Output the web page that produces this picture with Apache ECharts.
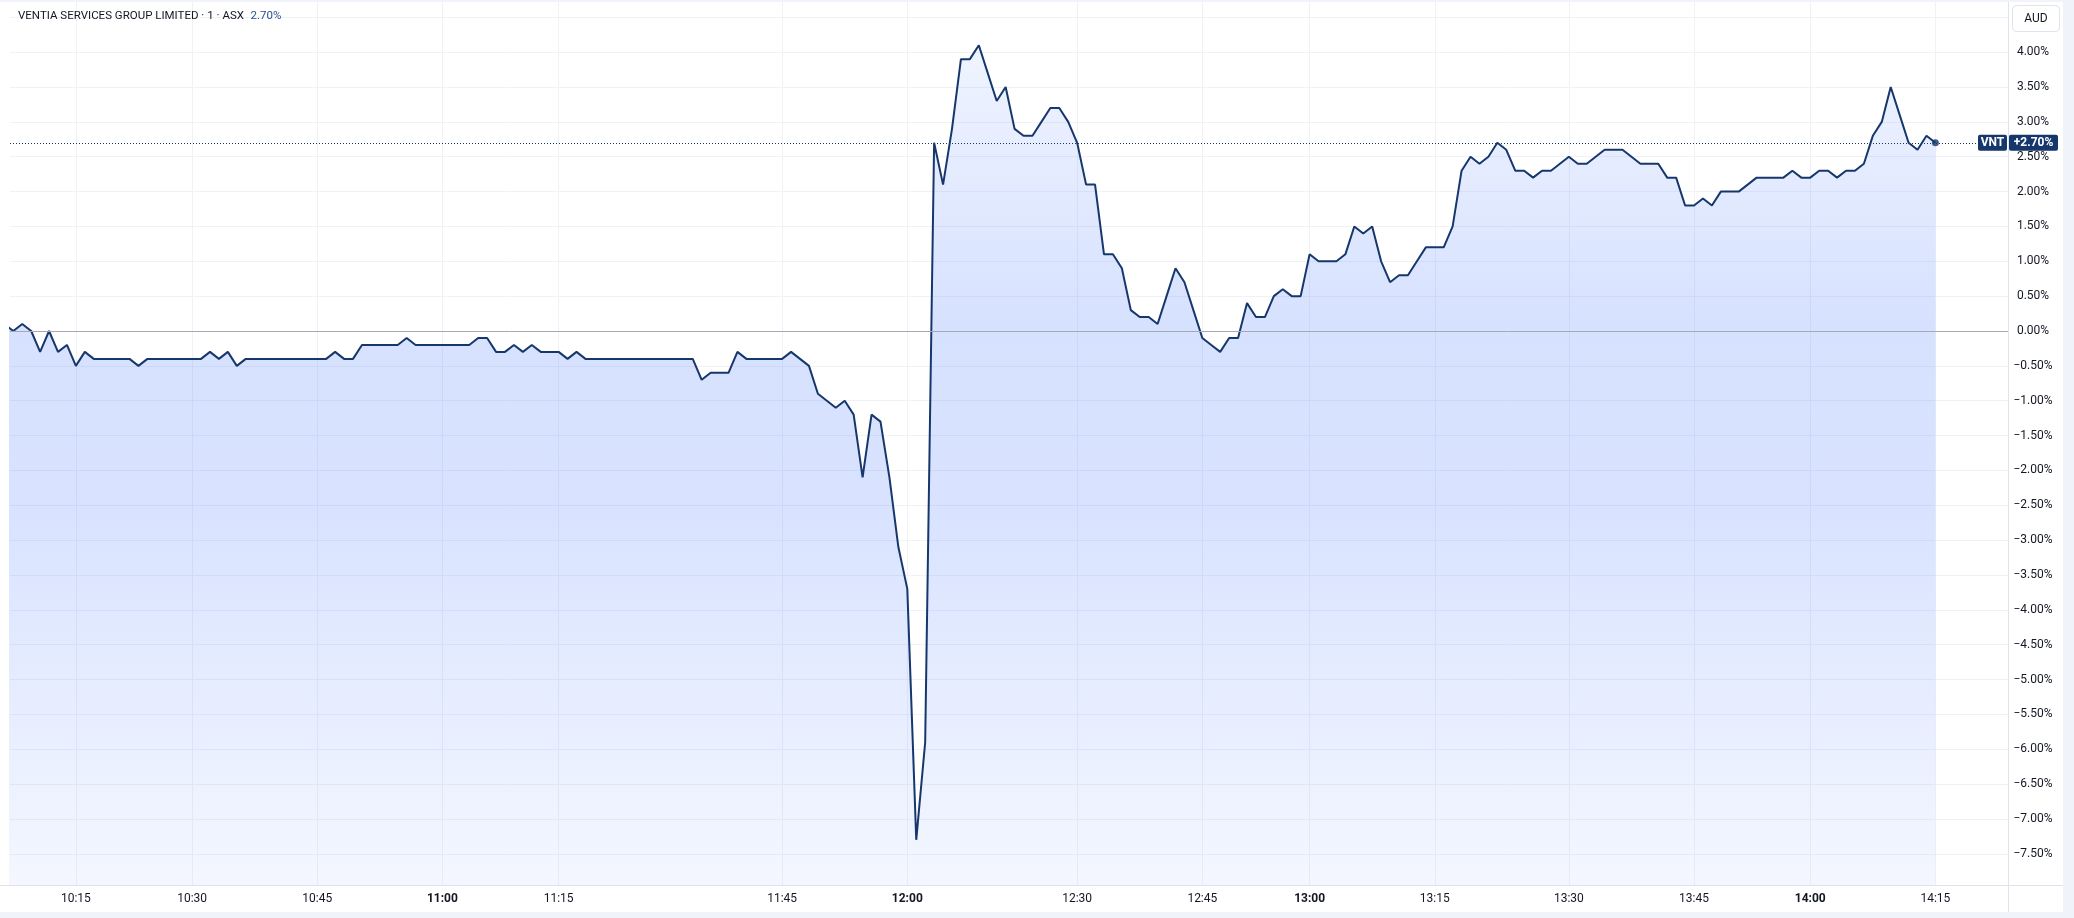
<!DOCTYPE html>
<html>
<head>
<meta charset="utf-8">
<script src="https://cdn.jsdelivr.net/npm/echarts@6/dist/echarts.min.js"></script>
<style>
html,body{margin:0;padding:0;background:#ffffff;}
#c{width:2074px;height:918px;}
</style>
</head>
<body>
<div id="c"></div>
<script>
// Percentage change vs. open, one value per 1-minute bar (bar 0 lies just left of the visible pane)
const changePct = [
  0.1, 0.0, 0.1, 0.0, -0.3, 0.0, -0.3, -0.2, -0.5, -0.3,
  -0.4, -0.4, -0.4, -0.4, -0.4, -0.5, -0.4, -0.4, -0.4, -0.4,
  -0.4, -0.4, -0.4, -0.3, -0.4, -0.3, -0.5, -0.4, -0.4, -0.4,
  -0.4, -0.4, -0.4, -0.4, -0.4, -0.4, -0.4, -0.3, -0.4, -0.4,
  -0.2, -0.2, -0.2, -0.2, -0.2, -0.1, -0.2, -0.2, -0.2, -0.2,
  -0.2, -0.2, -0.2, -0.1, -0.1, -0.3, -0.3, -0.2, -0.3, -0.2,
  -0.3, -0.3, -0.3, -0.4, -0.3, -0.4, -0.4, -0.4, -0.4, -0.4,
  -0.4, -0.4, -0.4, -0.4, -0.4, -0.4, -0.4, -0.4, -0.7, -0.6,
  -0.6, -0.6, -0.3, -0.4, -0.4, -0.4, -0.4, -0.4, -0.3, -0.4,
  -0.5, -0.9, -1.0, -1.1, -1.0, -1.2, -2.1, -1.2, -1.3, -2.1,
  -3.1, -3.7, -7.3, -5.9, 2.7, 2.1, 2.9, 3.9, 3.9, 4.1,
  3.7, 3.3, 3.5, 2.9, 2.8, 2.8, 3.0, 3.2, 3.2, 3.0,
  2.7, 2.1, 2.1, 1.1, 1.1, 0.9, 0.3, 0.2, 0.2, 0.1,
  0.5, 0.9, 0.7, 0.3, -0.1, -0.2, -0.3, -0.1, -0.1, 0.4,
  0.2, 0.2, 0.5, 0.6, 0.5, 0.5, 1.1, 1.0, 1.0, 1.0,
  1.1, 1.5, 1.4, 1.5, 1.0, 0.7, 0.8, 0.8, 1.0, 1.2,
  1.2, 1.2, 1.5, 2.3, 2.5, 2.4, 2.5, 2.7, 2.6, 2.3,
  2.3, 2.2, 2.3, 2.3, 2.4, 2.5, 2.4, 2.4, 2.5, 2.6,
  2.6, 2.6, 2.5, 2.4, 2.4, 2.4, 2.2, 2.2, 1.8, 1.8,
  1.9, 1.8, 2.0, 2.0, 2.0, 2.1, 2.2, 2.2, 2.2, 2.2,
  2.3, 2.2, 2.2, 2.3, 2.3, 2.2, 2.3, 2.3, 2.4, 2.8,
  3.0, 3.5, 3.1, 2.7, 2.6, 2.8, 2.7
];
// Time-axis labels and the bar index each one sits on
const tickIndex  = [8, 21, 35, 49, 62, 87, 101, 120, 134, 146, 160, 175, 189, 202, 216];
const tickLabels = ['10:15','10:30','10:45','11:00','11:15','11:45','12:00','12:30','12:45','13:00','13:15','13:30','13:45','14:00','14:15'];
// Price-scale grid levels and labelled levels (%)
const yGridLevels  = [-7.5,-7.0,-6.5,-6.0,-5.5,-5.0,-4.5,-4.0,-3.5,-3.0,-2.5,-2.0,-1.5,-1.0,-0.5,0.0,0.5,1.0,1.5,2.0,2.5,3.0,3.5,4.0,4.5];
const yLabelLevels = [-7.5,-7.0,-6.5,-6.0,-5.5,-5.0,-4.5,-4.0,-3.5,-3.0,-2.5,-2.0,-1.5,-1.0,-0.5,0.0,0.5,1.0,1.5,2.0,2.5,3.0,3.5,4.0];
const symbolName = 'VNT';
const titleText = 'VENTIA SERVICES GROUP LIMITED · 1 · ASX';
const currency = 'AUD';

const NAVY = '#16376c';
const TXT = '#131722';
const GRID = '#f0f2f6';
const BORDER = '#e0e3eb';
const FONT = 'Roboto, "Liberation Sans", sans-serif';

const lastIdx = changePct.length - 1;
const lastVal = changePct[lastIdx];
const fmtPct = v => (v < 0 ? '\u2212' : '') + Math.abs(v).toFixed(2) + '%';
const data = changePct.map((v, i) => [i, v]);

const chart = echarts.init(document.getElementById('c'), null, {renderer: 'canvas'});

const option = {
  animation: false,
  backgroundColor: '#ffffff',
  grid: {left: 10, right: 66, top: 2, bottom: 33, outerBoundsMode: 'none', containLabel: false},
  xAxis: {
    type: 'value',
    min: 0.631, max: 224.12,
    axisLine: {show: false},
    axisTick: {show: false, customValues: tickIndex},
    splitLine: {show: true, lineStyle: {color: GRID, width: 1}},
    axisLabel: {
      customValues: tickIndex,
      margin: 8,
      formatter: v => {
        const i = tickIndex.indexOf(Math.round(v));
        if (i < 0) return '';
        const t = tickLabels[i];
        return t.endsWith(':00') ? '{b|' + t + '}' : '{n|' + t + '}';
      },
      rich: {
        n: {fontFamily: FONT, fontSize: 12, color: TXT},
        b: {fontFamily: FONT, fontSize: 12, color: TXT, fontWeight: 'bold'}
      }
    }
  },
  yAxis: {
    type: 'value',
    position: 'right',
    min: -7.948, max: 4.72,
    axisLine: {show: false},
    axisTick: {show: false, customValues: yGridLevels},
    splitLine: {show: true, lineStyle: {color: GRID, width: 1}},
    axisLabel: {
      customValues: yLabelLevels,
      margin: 25,
      align: 'center',
      fontFamily: FONT, fontSize: 12, color: TXT,
      formatter: v => fmtPct(v)
    }
  },
  series: [
    {
      type: 'line',
      data: data,
      symbol: 'none',
      showSymbol: false,
      lineStyle: {color: NAVY, width: 2},
      areaStyle: {
        origin: 'start',
        opacity: 1,
        color: new echarts.graphic.LinearGradient(0, 0, 0, 1, [
          {offset: 0, color: 'rgba(41,98,255,0.07)'},
          {offset: 0.33, color: 'rgba(41,98,255,0.19)'},
          {offset: 0.55, color: 'rgba(41,98,255,0.18)'},
          {offset: 1, color: 'rgba(41,98,255,0.05)'}
        ])
      },
      markLine: {
        silent: true,
        symbol: ['none', 'none'],
        label: {show: false},
        animation: false,
        data: [
          {yAxis: 0, lineStyle: {color: '#a6a9b4', type: 'solid', width: 1}},
          {yAxis: lastVal, lineStyle: {color: NAVY, type: [1, 2], width: 1}}
        ]
      },
      z: 3
    },
    {
      type: 'scatter',
      data: [[lastIdx, lastVal]],
      symbol: 'circle',
      symbolSize: 7,
      itemStyle: {color: NAVY},
      silent: true,
      z: 5
    }
  ]
};
chart.setOption(option);

const yLast = chart.convertToPixel({yAxisIndex: 0}, lastVal);
const plotRight = 2008;
chart.setOption({
  graphic: [
    // page margin bands
    {type: 'rect', z: 90, shape: {x: 0, y: 0, width: 2074, height: 2}, style: {fill: '#f0f3fa'}},
    {type: 'rect', z: 90, shape: {x: 2063, y: 0, width: 11, height: 918}, style: {fill: '#f0f3fa'}},
    {type: 'rect', z: 90, shape: {x: 0, y: 912, width: 2074, height: 6}, style: {fill: '#f0f3fa'}},
    // pane borders
    {type: 'line', z: 91, shape: {x1: 0, y1: 885.5, x2: 2063, y2: 885.5}, style: {stroke: BORDER, lineWidth: 1}},
    {type: 'line', z: 91, shape: {x1: plotRight + 0.5, y1: 2, x2: plotRight + 0.5, y2: 912}, style: {stroke: BORDER, lineWidth: 1}},
    // currency box
    {type: 'rect', z: 92, shape: {x: 2012.5, y: 5.5, width: 47, height: 26, r: 4}, style: {fill: '#ffffff', stroke: BORDER, lineWidth: 1}},
    {type: 'text', z: 93, x: 2036, y: 18.5, style: {text: currency, fontFamily: FONT, fontSize: 12, fill: TXT, align: 'center', verticalAlign: 'middle'}},
    // last value labels
    {type: 'rect', z: 92, shape: {x: 1978, y: yLast - 8, width: 29, height: 16, r: 2}, style: {fill: NAVY}},
    {type: 'text', z: 93, x: 1992.5, y: yLast, style: {text: symbolName, fontFamily: FONT, fontSize: 12, fontWeight: 'bold', fill: '#ffffff', align: 'center', verticalAlign: 'middle'}},
    {type: 'rect', z: 92, shape: {x: 2009, y: yLast - 8, width: 49, height: 16, r: 2}, style: {fill: NAVY}},
    {type: 'text', z: 93, x: 2033.5, y: yLast, style: {text: '+' + lastVal.toFixed(2) + '%', fontFamily: FONT, fontSize: 12, fontWeight: 'bold', fill: '#ffffff', align: 'center', verticalAlign: 'middle'}},
    // title
    {type: 'text', z: 93, x: 18, y: 16, style: {
      text: '{a|' + titleText + '}  {b|' + lastVal.toFixed(2) + '%}',
      verticalAlign: 'middle',
      rich: {
        a: {fontFamily: FONT, fontSize: 11.5, fill: TXT, color: TXT},
        b: {fontFamily: FONT, fontSize: 11.5, fill: '#2a4f8f', color: '#2a4f8f'}
      }
    }}
  ]
});
</script>
</body>
</html>
